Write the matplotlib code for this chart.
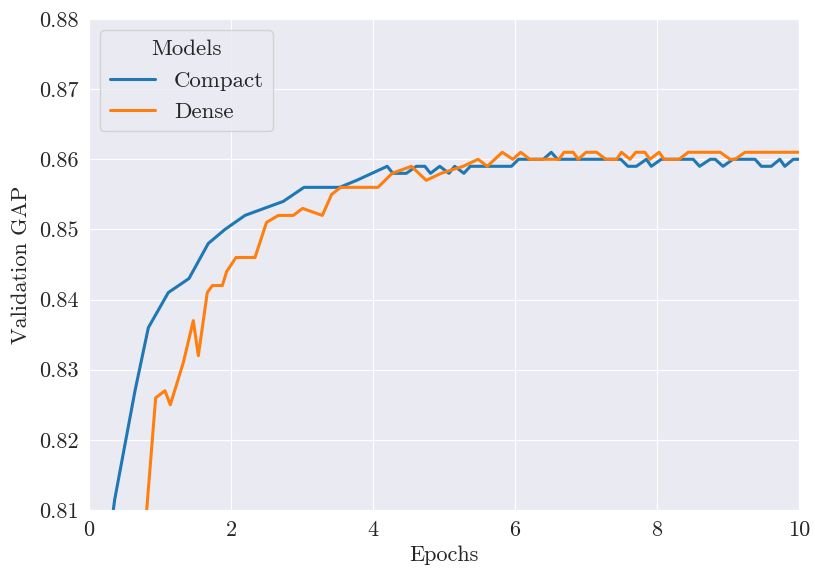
import matplotlib
matplotlib.use("Agg")
import matplotlib.pyplot as plt
import seaborn as sns

# Compact model (vertices)
compact_epochs = [0.29, 0.362, 0.648, 0.836, 1.117, 1.408, 1.680, 1.915, 2.197, 2.737,
                  3.028, 3.53, 3.77, 4.20, 4.28, 4.47, 4.61, 4.73, 4.81, 4.94,
                  5.07, 5.15, 5.28, 5.37, 5.95, 6.05, 6.40, 6.51, 6.60, 7.49,
                  7.59, 7.71, 7.85, 7.92, 8.06, 8.51, 8.60, 8.75, 8.82, 8.93,
                  9.07, 9.38, 9.47, 9.61, 9.73, 9.80, 9.92, 10.0]
compact_gap = [0.806, 0.8115, 0.827, 0.836, 0.841, 0.843, 0.848, 0.850, 0.852, 0.854,
               0.856, 0.856, 0.857, 0.859, 0.858, 0.858, 0.859, 0.859, 0.858, 0.859,
               0.858, 0.859, 0.858, 0.859, 0.859, 0.860, 0.860, 0.861, 0.860, 0.860,
               0.859, 0.859, 0.860, 0.859, 0.860, 0.860, 0.859, 0.860, 0.860, 0.859,
               0.860, 0.860, 0.859, 0.859, 0.860, 0.859, 0.860, 0.860]

# Dense model
dense_epochs = [0.80, 0.939, 1.070, 1.145, 1.328, 1.469, 1.540, 1.666, 1.737, 1.878,
                1.939, 2.07, 2.338, 2.50, 2.667, 2.877, 3.008, 3.286, 3.418, 3.545,
                4.07, 4.27, 4.54, 4.75, 4.96, 5.27, 5.48, 5.61, 5.82, 5.97,
                6.08, 6.21, 6.62, 6.69, 6.82, 6.89, 7.00, 7.15, 7.28, 7.43,
                7.50, 7.62, 7.70, 7.83, 7.90, 8.03, 8.10, 8.31, 8.44, 8.89,
                9.03, 9.10, 9.24, 10.0]
dense_gap = [0.8084, 0.826, 0.827, 0.825, 0.831, 0.837, 0.832, 0.841, 0.842, 0.842,
             0.844, 0.846, 0.846, 0.851, 0.852, 0.852, 0.853, 0.852, 0.855, 0.856,
             0.856, 0.858, 0.859, 0.857, 0.858, 0.859, 0.860, 0.859, 0.861, 0.860,
             0.861, 0.860, 0.860, 0.861, 0.861, 0.860, 0.861, 0.861, 0.860, 0.860,
             0.861, 0.860, 0.861, 0.861, 0.860, 0.861, 0.860, 0.860, 0.861, 0.861,
             0.860, 0.860, 0.861, 0.861]

x_ticks = [0, 2, 4, 6, 8, 10]
y_ticks = [0.81, 0.82, 0.83, 0.84, 0.85, 0.86, 0.87, 0.88]

sns.set_style("darkgrid")
plt.rcParams['font.family'] = 'serif'
plt.rcParams['font.serif'] = ['cmr10', 'DejaVu Serif']
plt.rcParams['axes.formatter.use_mathtext'] = True
plt.rcParams['mathtext.fontset'] = 'cm'

fig = plt.figure(figsize=(8.15, 5.72), dpi=100)
ax = fig.add_axes([89/815, 1-510/572, (799-89)/815, (510-19)/572])

ax.plot(compact_epochs, compact_gap, color='#1f77b4', lw=2.2, label='Compact')
ax.plot(dense_epochs, dense_gap, color='#ff7f0e', lw=2.2, label='Dense')

ax.set_xlim(0, 10)
ax.set_ylim(0.81, 0.88)
ax.set_xticks(x_ticks)
ax.set_yticks(y_ticks)
ax.set_xticklabels([str(t) for t in x_ticks])
ax.set_yticklabels([f"{t:.2f}" for t in y_ticks])
ax.tick_params(labelsize=16, colors='.15', pad=4)
ax.set_xlabel('Epochs', fontsize=16, color='.15', labelpad=4)
ax.set_ylabel('Validation GAP', fontsize=16, color='.15', labelpad=6)

leg = ax.legend(title='Models', loc='upper left', fontsize=16.5, title_fontsize=16.5)

fig.savefig('out.png', dpi=100)
